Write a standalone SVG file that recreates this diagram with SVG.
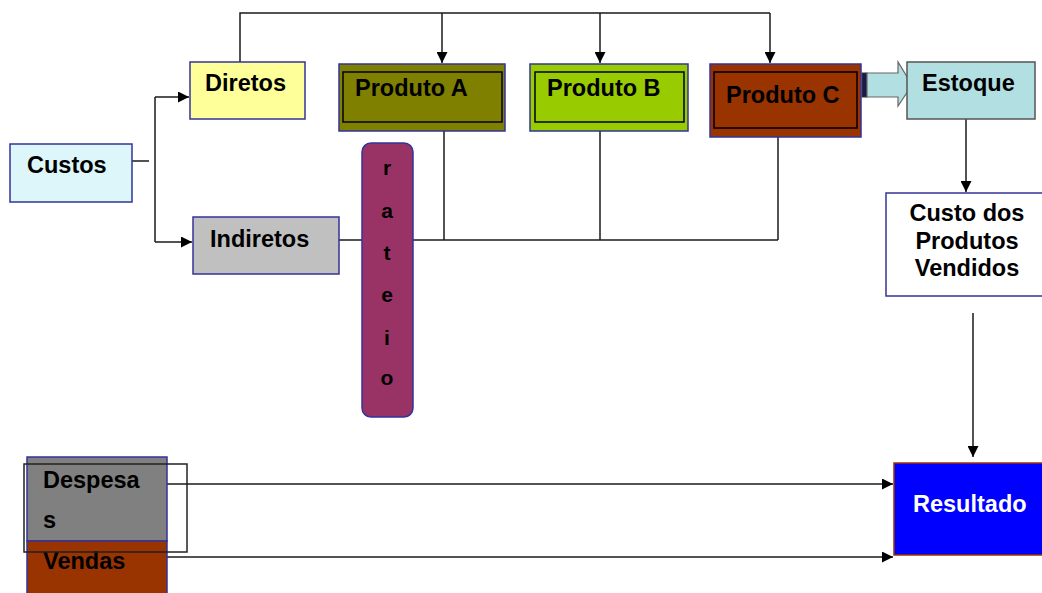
<svg xmlns="http://www.w3.org/2000/svg" width="1042" height="593" viewBox="0 0 1042 593">
<style>
text{font-family:"Liberation Sans",Arial,sans-serif;font-weight:bold;font-size:23.5px;fill:#000}
.box{stroke:#333399;stroke-width:1.5}
.inner{fill:none;stroke:#000;stroke-width:1.5}
.ln{fill:none;stroke:#1a1a1a;stroke-width:1.5}
.lr{font-size:21px;text-anchor:middle}
</style>
<defs>
<marker id="ah" viewBox="0 0 10 10" refX="10" refY="5" markerWidth="11" markerHeight="11" markerUnits="userSpaceOnUse" orient="auto">
<path d="M0,0 L10,5 L0,10 z" fill="#000"/>
</marker>
</defs>
<rect width="1042" height="593" fill="#fff"/>
<g id="connectors">
<path class="ln" d="M132,161 H149"/>
<path class="ln" d="M155,97 V242"/>
<path class="ln" d="M155,97 H189" marker-end="url(#ah)"/>
<path class="ln" d="M155,242 H192" marker-end="url(#ah)"/>
<path class="ln" d="M240,62 V13 H770"/>
<path class="ln" d="M442,13 V63" marker-end="url(#ah)"/>
<path class="ln" d="M600,13 V63" marker-end="url(#ah)"/>
<path class="ln" d="M770,13 V63" marker-end="url(#ah)"/>
<path class="ln" d="M339,240 H778"/>
<path class="ln" d="M444,131 V240"/>
<path class="ln" d="M600,131 V240"/>
<path class="ln" d="M778,137 V240"/>
<path class="ln" d="M966,110 V192" marker-end="url(#ah)"/>
<path class="ln" d="M973,313 V457" marker-end="url(#ah)"/>
<path class="ln" d="M167,484 H893" marker-end="url(#ah)"/>
<path class="ln" d="M167,557 H893" marker-end="url(#ah)"/>
<g id="block-arrow">
<rect x="862" y="73" width="5" height="24" fill="#1a1a4a" stroke="#333" stroke-width="1"/>
<path d="M867,73 H898 V62 L912,85 L898,106 V97 H867 z" fill="#B2DFE2" stroke="#666" stroke-width="1.2"/>
</g>
</g>
<g id="custos"><rect class="box" x="10" y="144" width="122" height="58" fill="#DDF6FA"/><text x="27" y="173">Custos</text></g>
<g id="diretos"><rect class="box" x="190" y="62" width="115" height="57" fill="#FFFF99"/><text x="205" y="91">Diretos</text></g>
<g id="indiretos"><rect class="box" x="193" y="217" width="146" height="57" fill="#C0C0C0"/><text x="210" y="247">Indiretos</text></g>
<g id="produto-a"><rect class="box" x="339" y="64" width="166" height="67" fill="#808000"/><rect class="inner" x="343" y="72" width="159" height="50"/><text x="355" y="96">Produto A</text></g>
<g id="produto-b"><rect class="box" x="530" y="64" width="158" height="67" fill="#99CC00"/><rect class="inner" x="535" y="72" width="149" height="50"/><text x="547" y="96">Produto B</text></g>
<g id="produto-c"><rect class="box" x="710" y="64" width="151" height="73" fill="#993300"/><rect class="inner" x="714" y="72" width="143" height="56"/><text x="726" y="103">Produto C</text></g>
<g id="rateio"><rect x="362" y="143" width="51" height="274" rx="9" fill="#993366" stroke="#333399" stroke-width="1.5"/>
<text class="lr" x="387" y="175">r</text><text class="lr" x="387" y="218">a</text><text class="lr" x="387" y="260">t</text><text class="lr" x="387" y="302">e</text><text class="lr" x="387" y="345">i</text><text class="lr" x="387" y="385">o</text></g>
<g id="estoque"><rect x="907" y="62" width="128" height="57" fill="#B2DFE2" stroke="#555" stroke-width="1.5"/><text x="922" y="91">Estoque</text></g>
<g id="cpv"><rect class="box" x="886" y="193" width="160" height="103" fill="#fff"/>
<text x="967" y="221" text-anchor="middle">Custo dos</text><text x="967" y="249" text-anchor="middle">Produtos</text><text x="967" y="276" text-anchor="middle">Vendidos</text></g>
<g id="resultado"><rect x="894" y="463" width="160" height="92" fill="#0000FF" stroke="#993300" stroke-width="1.5"/><text x="913" y="512" style="fill:#fff">Resultado</text></g>
<g id="despesas"><rect class="box" x="27" y="457" width="140" height="84" fill="#808080"/><text x="43" y="488">Despesa</text><text x="43" y="528">s</text></g>
<g id="vendas"><rect class="box" x="27" y="541" width="140" height="60" fill="#993300"/><text x="43" y="569">Vendas</text></g>
<rect x="24" y="464" width="163" height="88" fill="none" stroke="#222" stroke-width="1.5"/>
</svg>
